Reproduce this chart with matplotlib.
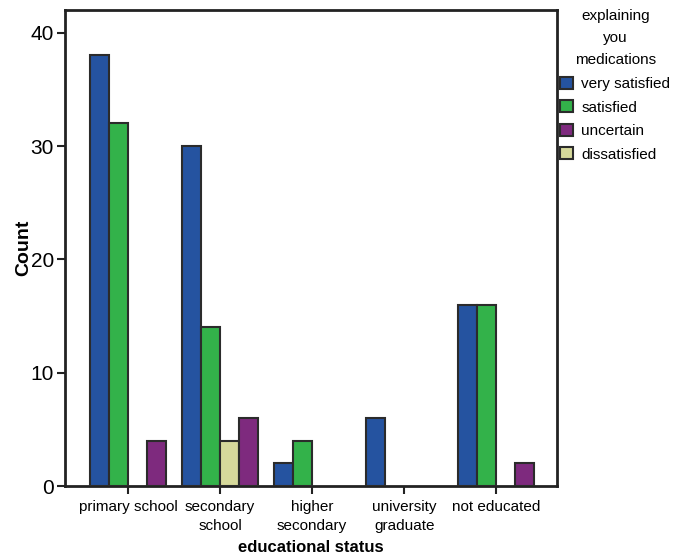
import matplotlib.pyplot as plt
import numpy as np

plt.rcParams['font.family'] = ['Liberation Sans', 'DejaVu Sans']

categories = ["primary school", "secondary\nschool", "higher\nsecondary",
              "university\ngraduate", "not educated"]
very_satisfied = [38, 30, 2, 6, 16]
satisfied = [32, 14, 4, 0, 16]
uncertain = [4, 6, 0, 0, 2]
dissatisfied = [0, 4, 0, 0, 0]

colors = {
    "very satisfied": "#2553a0",
    "satisfied": "#33b24a",
    "uncertain": "#7e2a7e",
    "dissatisfied": "#d6d99b",
}

fig = plt.figure(figsize=(6.82, 5.57), dpi=100)
ax = fig.add_axes([65 / 682, 1 - 486 / 557, (557 - 65) / 682, (486 - 10) / 557])

x = np.arange(len(categories))
w = 0.207
# slot order in each cluster: very satisfied, satisfied, dissatisfied, uncertain
series = [
    ("very satisfied", very_satisfied, -1.5),
    ("satisfied", satisfied, -0.5),
    ("dissatisfied", dissatisfied, 0.5),
    ("uncertain", uncertain, 1.5),
]
handles = {}
for name, vals, off in series:
    vals = np.array(vals, dtype=float)
    keep = vals > 0
    b = ax.bar(x[keep] + off * w, vals[keep], width=w, color=colors[name],
               edgecolor="#2b2b2b", linewidth=1.5, zorder=3)
    handles[name] = b

ax.set_xlim(-0.685, 4.66)
ax.set_ylim(0, 42.0)
ax.set_yticks([0, 10, 20, 30, 40])
ax.set_xticks(x)
ax.set_xticklabels(categories, fontsize=11, linespacing=1.45)
ax.tick_params(axis="y", labelsize=15, length=6, width=1.5, color="#222222", pad=2)
ax.tick_params(axis="x", length=6, width=1.5, color="#222222", pad=4)
for s in ax.spines.values():
    s.set_linewidth(2)
    s.set_color("#222222")

ax.set_ylabel("Count", fontsize=14, fontweight="bold", labelpad=-1)
ax.set_xlabel("educational status", fontsize=12, fontweight="bold", labelpad=5)

order = ["very satisfied", "satisfied", "uncertain", "dissatisfied"]
leg = fig.legend([handles[k] for k in order], order,
                 title="explaining\nyou\nmedications",
                 loc="upper left", bbox_to_anchor=(560 / 682, 1 - 9 / 557),
                 frameon=False, fontsize=11, title_fontsize=11,
                 handlelength=0.85, handleheight=0.85, handletextpad=0.55,
                 labelspacing=0.6, borderaxespad=0, borderpad=0)
leg.get_title().set_multialignment("center")
leg.get_title().set_linespacing(1.75)

fig.savefig("out.png", dpi=100)
